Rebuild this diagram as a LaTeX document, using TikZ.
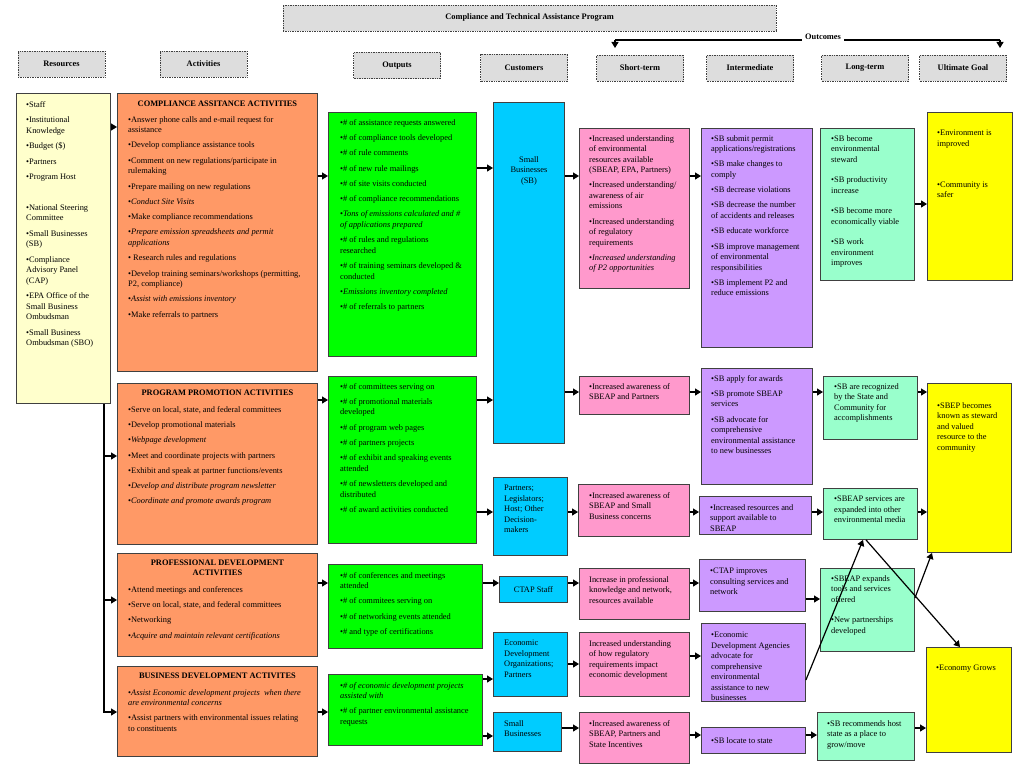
\documentclass[tikz,border=0pt]{standalone}
\usepackage{fontspec}
\setmainfont{Liberation Serif}
\usetikzlibrary{arrows.meta}

\definecolor{hdrgray}{HTML}{DDDDDD}
\definecolor{resfill}{HTML}{FFFFCC}
\definecolor{actfill}{HTML}{FF9966}
\definecolor{outfill}{HTML}{00FF00}
\definecolor{cusfill}{HTML}{00CCFF}
\definecolor{stfill}{HTML}{FF99CC}
\definecolor{imfill}{HTML}{CC99FF}
\definecolor{ltfill}{HTML}{99FFCC}
\definecolor{ugfill}{HTML}{FFFF00}
\definecolor{edge}{HTML}{404040}

\begin{document}
\begin{tikzpicture}[x=1pt,y=-1pt,
  box/.style={draw=edge,line width=0.9pt,anchor=north west,inner sep=0pt},
  hdr/.style={draw=black!75,densely dotted,line width=0.7pt,fill=hdrgray,minimum width=87pt,minimum height=26pt,inner sep=0pt,font=\bfseries\fontsize{8.4}{10}\selectfont},
  tx/.style={anchor=north west,inner sep=0pt,align=left,font=\fontsize{8.4}{10.5}\selectfont},
  ttl/.style={inner sep=0pt,align=center,font=\bfseries\fontsize{8.4}{10.5}\selectfont},
  arr/.style={-{Triangle[length=6pt,width=7pt]},line width=1.2pt}]

\fill[white] (0,0) rectangle (1024,768);
\useasboundingbox (0,0) rectangle (1024,768);

%headers
\node[hdr,minimum width=493pt] (prog) at (529.5,18) {Compliance and Technical Assistance Program};
\node[hdr] (hres) at (61.5,64) {Resources};
\node[hdr] (hact) at (203.5,64) {Activities};
\node[hdr] (hout) at (397,65.5) {Outputs};
\node[hdr,minimum height=27pt] (hcus) at (524,67.5) {Customers};
\node[hdr] (hst) at (640,68) {Short-term};
\node[hdr] (him) at (750,68) {Intermediate};
\node[hdr] (hlt) at (865,68) {Long-term};
\node[hdr] (hug) at (963,68) {Ultimate Goal};

%outcomes bracket
\coordinate (ocl) at (615,40);
\coordinate (ocr) at (1000,40);
\coordinate (ocl2) at (615,48);
\coordinate (ocr2) at (1000,48);
\draw[line width=1.5pt] (ocl) -- (ocr);
\node[fill=white,inner sep=3pt,font=\bfseries\fontsize{8.4}{10}\selectfont] (outc) at (823,37) {Outcomes};
\draw[arr] (ocl) -- (ocl2);
\draw[arr] (ocr) -- (ocr2);

%resources
\node[box,fill=resfill,minimum width=94pt,minimum height=310pt] (res) at (16,93) {};
\node[tx] (restx) at ([shift={(10,8)}]res.north west) {%
•Staff\\[5pt]
•Institutional\\Knowledge\\[5pt]
•Budget (\$)\\[5pt]
•Partners\\[5pt]
•Program Host\\[20pt]
•National Steering\\Committee\\[5pt]
•Small Businesses\\(SB)\\[5pt]
•Compliance\\Advisory Panel\\(CAP)\\[5pt]
•EPA Office of the\\Small Business\\Ombudsman\\[5pt]
•Small Business\\Ombudsman (SBO)};

%activities
\node[box,fill=actfill,minimum width=200pt,minimum height=278pt] (ca) at (117,93) {};
\node[ttl] (catl) at (ca.north |- 0,104) {COMPLIANCE ASSITANCE ACTIVITIES};
\node[tx] (catx) at ([shift={(11,23)}]ca.north west) {%
•Answer phone calls and e-mail request for\\assistance\\[4.8pt]
•Develop compliance assistance tools\\[4.8pt]
•Comment on new regulations/participate in\\rulemaking\\[4.8pt]
•Prepare mailing on new regulations\\[4.8pt]
•\textit{Conduct Site Visits}\\[4.8pt]
•Make compliance recommendations\\[4.8pt]
•\textit{Prepare emission spreadsheets and permit}\\\textit{applications}\\[4.8pt]
• Research rules and regulations\\[4.8pt]
•Develop training seminars/workshops (permitting,\\P2, compliance)\\[4.8pt]
•\textit{Assist with emissions inventory}\\[4.8pt]
•Make referrals to partners};

\node[box,fill=actfill,minimum width=200pt,minimum height=161pt] (pp) at (117,383) {};
\node[ttl] (pptl) at (pp.north |- 0,393) {PROGRAM PROMOTION ACTIVITIES};
\node[tx] (pptx) at ([shift={(11,23)}]pp.north west) {%
•Serve on local, state, and federal committees\\[4.8pt]
•Develop promotional materials\\[4.8pt]
•\textit{Webpage development}\\[4.8pt]
•Meet and coordinate projects with partners\\[4.8pt]
•Exhibit and speak at partner functions/events\\[4.8pt]
•\textit{Develop and distribute program newsletter}\\[4.8pt]
•\textit{Coordinate and promote awards program}};

\node[box,fill=actfill,minimum width=200pt,minimum height=103pt] (pd) at (117,553) {};
\node[ttl] (pdtl) at (pd.north |- 0,568) {PROFESSIONAL DEVELOPMENT\\ACTIVITIES};
\node[tx] (pdtx) at ([shift={(11,33)}]pd.north west) {%
•Attend meetings and conferences\\[4.8pt]
•Serve on local, state, and federal committees\\[4.8pt]
•Networking\\[4.8pt]
•\textit{Acquire and maintain relevant certifications}};

\node[box,fill=actfill,minimum width=200pt,minimum height=90pt] (bd) at (117,666) {};
\node[ttl] (bdtl) at (bd.north |- 0,676) {BUSINESS DEVELOPMENT ACTIVITES};
\node[tx] (bdtx) at ([shift={(11,23)}]bd.north west) {%
•\textit{Assist Economic development projects\ \ when there}\\\textit{are environmental concerns}\\[4.8pt]
•Assist partners with environmental issues relating\\to constituents};

%outputs
\node[box,fill=outfill,minimum width=148pt,minimum height=244pt] (o1) at (328,112) {};
\node[tx] (o1tx) at ([shift={(12,7)}]o1.north west) {%
•\# of assistance requests answered\\[4.8pt]
•\# of compliance tools developed\\[4.8pt]
•\# of rule comments\\[4.8pt]
•\# of new rule mailings\\[4.8pt]
•\# of site visits conducted\\[4.8pt]
•\# of compliance recommendations\\[4.8pt]
•\textit{Tons of emissions calculated and \#}\\\textit{of applications prepared}\\[4.8pt]
•\# of rules and regulations\\researched\\[4.8pt]
•\# of training seminars developed \&\\conducted\\[4.8pt]
•\textit{Emissions inventory completed}\\[4.8pt]
•\# of referrals to partners};

\node[box,fill=outfill,minimum width=148pt,minimum height=167pt] (o2) at (328,376) {};
\node[tx] (o2tx) at ([shift={(12,7)}]o2.north west) {%
•\# of committees serving on\\[4.8pt]
•\# of promotional materials\\developed\\[4.8pt]
•\# of program web pages\\[4.8pt]
•\# of partners projects\\[4.8pt]
•\# of exhibit and speaking events\\attended\\[4.8pt]
•\# of newsletters developed and\\distributed\\[4.8pt]
•\# of award activities conducted};

\node[box,fill=outfill,minimum width=154pt,minimum height=84pt] (o3) at (328,564) {};
\node[tx] (o3tx) at ([shift={(12,8)}]o3.north west) {%
•\# of conferences and meetings\\attended\\[4.8pt]
•\# of commitees serving on\\[4.8pt]
•\# of networking events attended\\[4.8pt]
•\# and type of certifications};

\node[box,fill=outfill,minimum width=154pt,minimum height=71pt] (o4) at (328,674) {};
\node[tx] (o4tx) at ([shift={(12,8)}]o4.north west) {%
•\textit{\# of economic development projects}\\\textit{assisted with}\\[4.8pt]
•\# of partner environmental assistance\\requests};

%customers
\node[box,fill=cusfill,minimum width=71pt,minimum height=341pt] (c1) at (493,102) {};
\node[tx,anchor=north,align=center] (c1tx) at ([shift={(0,54)}]c1.north) {Small\\Businesses\\(SB)};
\node[box,fill=cusfill,minimum width=74pt,minimum height=78pt] (c2) at (493,477) {};
\node[tx] (c2tx) at ([shift={(11,8)}]c2.north west) {Partners;\\Legislators;\\Host; Other\\Decision-\\makers};
\node[box,fill=cusfill,minimum width=68pt,minimum height=26pt] (c3) at (499,576) {};
\node[tx,anchor=center] (c3tx) at (c3.center) {CTAP Staff};
\node[box,fill=cusfill,minimum width=74pt,minimum height=64pt] (c4) at (493,632) {};
\node[tx] (c4tx) at ([shift={(11,8)}]c4.north west) {Economic\\Development\\Organizations;\\Partners};
\node[box,fill=cusfill,minimum width=68pt,minimum height=39pt] (c5) at (493,712) {};
\node[tx] (c5tx) at ([shift={(11,8)}]c5.north west) {Small\\Businesses};

%short-term
\node[box,fill=stfill,minimum width=110pt,minimum height=160pt] (s1) at (579,128) {};
\node[tx] (s1tx) at ([shift={(10,7)}]s1.north west) {%
•Increased understanding\\of environmental\\resources available\\(SBEAP, EPA, Partners)\\[4.8pt]
•Increased understanding/\\awareness of air\\emissions\\[4.8pt]
•Increased understanding\\of regulatory\\requirements\\[4.8pt]
•\textit{Increased understanding}\\\textit{of P2 opportunities}};
\node[box,fill=stfill,minimum width=110pt,minimum height=38pt] (s2) at (579,376) {};
\node[tx] (s2tx) at ([shift={(10,7)}]s2.north west) {•Increased awareness of\\SBEAP and Partners};
\node[box,fill=stfill,minimum width=111pt,minimum height=52pt] (s3) at (578,484) {};
\node[tx] (s3tx) at ([shift={(11,8)}]s3.north west) {•Increased awareness of\\SBEAP and Small\\Business concerns};
\node[box,fill=stfill,minimum width=110pt,minimum height=51pt] (s4) at (579,568) {};
\node[tx] (s4tx) at ([shift={(10,8)}]s4.north west) {Increase in professional\\knowledge and network,\\resources available};
\node[box,fill=stfill,minimum width=110pt,minimum height=64pt] (s5) at (579,632) {};
\node[tx] (s5tx) at ([shift={(10,8)}]s5.north west) {Increased understanding\\of how regulatory\\requirements impact\\economic development};
\node[box,fill=stfill,minimum width=110pt,minimum height=51pt] (s6) at (579,712) {};
\node[tx] (s6tx) at ([shift={(10,8)}]s6.north west) {•Increased awareness of\\SBEAP, Partners and\\State Incentives};

%intermediate
\node[box,fill=imfill,minimum width=111pt,minimum height=219pt] (i1) at (701,128) {};
\node[tx] (i1tx) at ([shift={(10,7)}]i1.north west) {%
•SB submit permit\\applications/registrations\\[4.8pt]
•SB make changes to\\comply\\[4.8pt]
•SB decrease violations\\[4.8pt]
•SB decrease the number\\of accidents and releases\\[4.8pt]
•SB educate workforce\\[4.8pt]
•SB improve management\\of environmental\\responsibilities\\[4.8pt]
•SB implement P2 and\\reduce emissions};
\node[box,fill=imfill,minimum width=111pt,minimum height=116pt] (i2) at (701,368) {};
\node[tx] (i2tx) at ([shift={(10,7)}]i2.north west) {%
•SB apply for awards\\[4.8pt]
•SB promote SBEAP\\services\\[4.8pt]
•SB advocate for\\comprehensive\\environmental assistance\\to new businesses};
\node[box,fill=imfill,minimum width=112pt,minimum height=38pt] (i3) at (699,496) {};
\node[tx] (i3tx) at ([shift={(11,8)}]i3.north west) {•Increased resources and\\support available to\\SBEAP};
\node[box,fill=imfill,minimum width=106pt,minimum height=52pt] (i4) at (699,559) {};
\node[tx] (i4tx) at ([shift={(11,9)}]i4.north west) {•CTAP improves\\consulting services and\\network};
\node[box,fill=imfill,minimum width=104pt,minimum height=78pt] (i5) at (701,623) {};
\node[tx] (i5tx) at ([shift={(10,9)}]i5.north west) {•Economic\\Development Agencies\\advocate for\\comprehensive\\environmental\\assistance to new\\businesses};
\node[box,fill=imfill,minimum width=104pt,minimum height=26pt] (i6) at (701,727) {};
\node[tx,anchor=west] (i6tx) at ([xshift=10pt]i6.west) {•SB locate to state};

%long-term
\node[box,fill=ltfill,minimum width=94pt,minimum height=152pt] (l1) at (820,128) {};
\node[tx] (l1tx) at ([shift={(11,7)}]l1.north west) {%
•SB become\\environmental\\steward\\[10pt]
•SB productivity\\increase\\[10pt]
•SB become more\\economically viable\\[10pt]
•SB work\\environment\\improves};
\node[box,fill=ltfill,minimum width=94pt,minimum height=63pt] (l2) at (823,376) {};
\node[tx] (l2tx) at ([shift={(11,7)}]l2.north west) {•SB are recognized\\by the State and\\Community for\\accomplishments};
\node[box,fill=ltfill,minimum width=94pt,minimum height=51pt] (l3) at (823,488) {};
\node[tx] (l3tx) at ([shift={(11,8)}]l3.north west) {•SBEAP services are\\expanded into other\\environmental media};
\node[box,fill=ltfill,minimum width=94pt,minimum height=83pt] (l4) at (820,568) {};
\node[tx] (l4tx) at ([shift={(11,7)}]l4.north west) {•SBEAP expands\\tools and services\\offered\\[10pt]•New partnerships\\developed};
\node[box,fill=ltfill,minimum width=97pt,minimum height=48pt] (l5) at (817,712) {};
\node[tx] (l5tx) at ([shift={(10,8)}]l5.north west) {•SB recommends host\\state as a place to\\grow/move};

%ultimate goal
\node[box,fill=ugfill,minimum width=85pt,minimum height=168pt] (u1) at (927,112) {};
\node[tx] (u1tx) at ([shift={(10,18)}]u1.north west) {•Environment is\\improved\\[30.5pt]•Community is\\safer};
\node[box,fill=ugfill,minimum width=84pt,minimum height=169pt] (u2) at (927,383) {};
\node[tx] (u2tx) at ([shift={(10,19)}]u2.north west) {•SBEP becomes\\known as steward\\and valued\\resource to the\\community};
\node[box,fill=ugfill,minimum width=85pt,minimum height=105pt] (u3) at (926,647) {};
\node[tx] (u3tx) at ([shift={(10,18)}]u3.north west) {•Economy Grows};

%resources to activities
\coordinate (bus) at ([xshift=-7pt]res.south east);
\draw[arr] (res.east |- 0,127) -- (ca.west |- 0,127);
\draw[arr] (bus) |- (bd.west |- 0,712);
\draw[arr] (bus |- 0,456) -- (pp.west |- 0,456);
\draw[arr] (bus |- 0,600) -- (pd.west |- 0,600);

%activities to outputs
\draw[arr] (ca.east |- 0,176) -- (o1.west |- 0,176);
\draw[arr] (pp.east |- 0,400) -- (o2.west |- 0,400);
\draw[arr] (pd.east |- 0,583) -- (o3.west |- 0,583);
\draw[arr] (bd.east |- 0,712) -- (o4.west |- 0,712);

%outputs to customers
\draw[arr] (o1.east |- 0,168) -- (c1.west |- 0,168);
\draw[arr] (o2.east |- 0,400) -- (c1.west |- 0,400);
\draw[arr] (o2.east |- 0,512) -- (c2.west |- 0,512);
\draw[arr] (o3.east |- 0,583) -- (c3.west |- 0,583);
\draw[arr] (o4.east |- 0,679) -- (c4.west |- 0,679);
\draw[arr] (o4.east |- 0,736) -- (c5.west |- 0,736);

%customers to short-term
\draw[arr] (c1.east |- 0,176) -- (s1.west |- 0,176);
\draw[arr] (c1.east |- 0,392) -- (s2.west |- 0,392);
\draw[arr] (c2.east |- 0,512) -- (s3.west |- 0,512);
\draw[arr] (c3.east |- 0,583) -- (s4.west |- 0,583);
\draw[arr] (c4.east |- 0,664) -- (s5.west |- 0,664);
\draw[arr] (c5.east |- 0,728) -- (s6.west |- 0,728);

%short-term to intermediate
\draw[arr] (s1.east |- 0,176) -- (i1.west |- 0,176);
\draw[arr] (s2.east |- 0,392) -- (i2.west |- 0,392);
\draw[arr] (s3.east |- 0,512) -- (i3.west |- 0,512);
\draw[arr] (s4.east |- 0,583) -- (i4.west |- 0,583);
\draw[arr] (s5.east |- 0,656) -- (i5.west |- 0,656);
\draw[arr] (s6.east |- 0,735) -- (i6.west |- 0,735);

%intermediate to long-term
\draw[arr] (i2.east |- 0,392) -- (l2.west |- 0,392);
\draw[arr] (i3.east |- 0,512) -- (l3.west |- 0,512);
\draw[arr] (i4.east |- 0,599) -- (l4.west |- 0,599);
\draw[arr] (i6.east |- 0,735) -- (l5.west |- 0,735);
\draw[arr] (i5.east |- 0,680) -- (l3.south -| 863,0);

%long-term to ultimate
\draw[arr] (l1.east |- 0,204) -- (u1.west |- 0,204);
\draw[arr] (l2.east |- 0,392) -- (u2.west |- 0,392);
\draw[arr] (l3.east |- 0,512) -- (u2.west |- 0,512);
\draw[arr] (l5.east |- 0,728) -- (u3.west |- 0,728);
\draw[arr] (l3.south -| 866,0) -- (u3.north -| 960,0);
\draw[arr] (l4.east |- 0,598) -- (u2.south -| 932,0);
\end{tikzpicture}
\end{document}
